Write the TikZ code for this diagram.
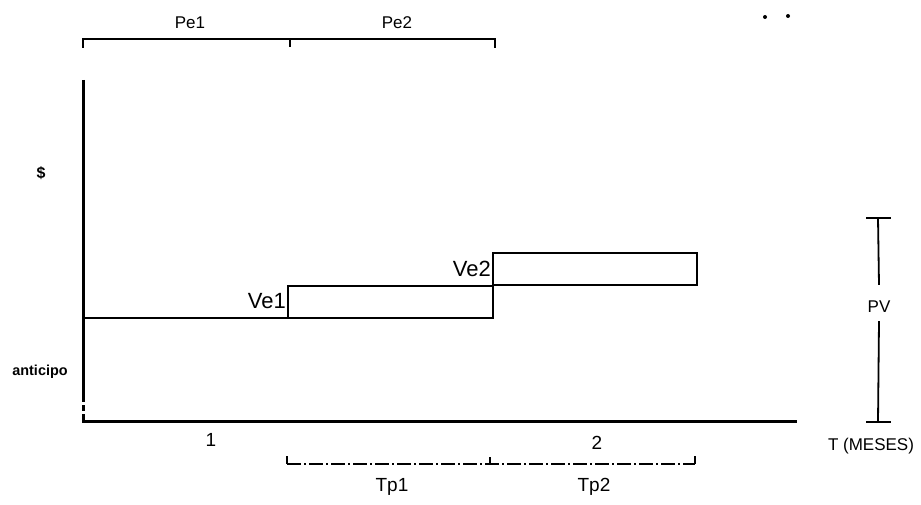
\documentclass[tikz,border=0pt]{standalone}
\usepackage{fontspec}
\setmainfont{Liberation Sans}
\usetikzlibrary{calc}
\newcommand{\fs}[1]{\fontsize{#1}{#1}\selectfont}

\begin{document}
\begin{tikzpicture}[x=1pt, y=-1pt,
    axis/.style={line width=3pt},
    stepline/.style={line width=2pt},
    brace/.style={line width=1.8pt},
    tpbrace/.style={line width=1.6pt, dash pattern=on 14pt off 3pt on 2pt off 3pt},
    lbl/.style={inner sep=0pt, font=\fs{18}}]
  \useasboundingbox (0,0) rectangle (921,505);

  % Axes
  \coordinate (O) at (83,421);
  \coordinate (ytop) at (83,80);
  \coordinate (ybrk) at (83,396);
  \coordinate (xend) at (795,421);
  \draw[axis] (ytop) -- (ybrk);
  \draw[axis, dash pattern=on 6pt off 3pt] (ybrk) -- (O);
  \draw[axis, line cap=rect] (O) -- (xend);
  \node[lbl, font=\bfseries\fs{16}] (dollar) at (41,173) {\$};
  \node[lbl, font=\bfseries\fs{16}, scale=0.9] (anticipo) at (40,372) {anticipo};
  \node[lbl, font=\fs{19}] (t1) at (211,440) {1};
  \node[lbl, font=\fs{19}] (t2) at (597,443) {2};
  \node[lbl, font=\fs{17}] (tmeses) at (871,446) {T (MESES)};

  % Step of the payments
  \coordinate (s0) at (83,318);
  \coordinate (a1) at (288,318);
  \coordinate (b1) at (288,286);
  \coordinate (c1) at (493,286);
  \coordinate (d1) at (493,318);
  \coordinate (a2) at (493,253);
  \coordinate (b2) at (697,253);
  \coordinate (c2) at (697,285);
  \coordinate (d2) at (493,285);
  \draw[stepline] (s0) -- (d1) -- (c1) -- (b1) -- (a1);
  \draw[stepline] (d2) -- (a2) -- (b2) -- (c2) -- (d2);
  \node[lbl, font=\fs{22}, anchor=east] (ve1) at (286,301) {Ve1};
  \node[lbl, font=\fs{22}, anchor=east] (ve2) at (491,269) {Ve2};

  % Top bracket Pe1 / Pe2
  \coordinate (pe0) at (83,39);
  \coordinate (pe1) at (290,39);
  \coordinate (pe2) at (495,39);
  \draw[brace] ($(pe0)+(0,9)$) -- (pe0) -- (pe2) -- ($(pe2)+(0,9)$);
  \draw[brace] (pe1) -- ($(pe1)+(0,8)$);
  \node[lbl, font=\fs{17}] (lpe1) at (190,23) {Pe1};
  \node[lbl, font=\fs{17}] (lpe2) at (397,23) {Pe2};

  % Bottom bracket Tp1 / Tp2
  \coordinate (tp0) at (287,464);
  \coordinate (tp1) at (490,464);
  \coordinate (tp2) at (695,464);
  \draw[brace] ($(tp0)+(0,-8)$) -- (tp0);
  \draw[tpbrace] (tp0) -- (tp2);
  \draw[brace] (tp2) -- ($(tp2)+(0,-8)$);
  \draw[brace] (tp1) -- ($(tp1)+(0,-7)$);
  \node[lbl, font=\fs{19}] (ltp1) at (392,487) {Tp1};
  \node[lbl, font=\fs{19}] (ltp2) at (594,487) {Tp2};

  % PV span
  \coordinate (pvtop) at (878,218);
  \coordinate (pvbot) at (878,422);
  \node[lbl, font=\fs{17}] (pv) at (879,307) {PV};
  \draw[brace] (pvtop) -- ($(pv.north)+(0,-16)$);
  \draw[brace] ($(pv.south)+(0,8)$) -- (pvbot);
  \draw[brace] ($(pvtop)+(-12,0)$) -- ($(pvtop)+(13,0)$);
  \draw[brace] ($(pvbot)+(-12,0)$) -- ($(pvbot)+(13,0)$);

  % Specks
  \fill (765,17) circle (2pt);
  \fill (788,16) circle (2pt);
\end{tikzpicture}
\end{document}
